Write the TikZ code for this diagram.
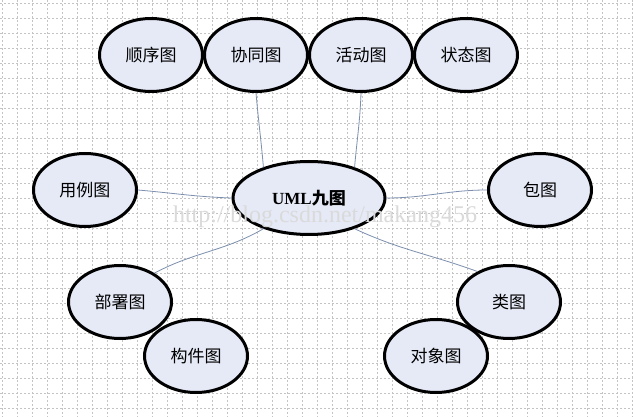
\documentclass[tikz,border=0pt]{standalone}
\usepackage{fontspec}
\setmainfont{Liberation Serif}
\newfontfamily\cjk{Noto Sans CJK SC}
\usetikzlibrary{shapes.geometric}
\definecolor{fillc}{HTML}{E6EAF7}
\definecolor{linkc}{HTML}{7D8FAE}
\definecolor{gridc}{HTML}{C4C4C4}
\definecolor{wmc}{HTML}{DADADA}
\begin{document}
\begin{tikzpicture}[x=1pt,y=-1pt,
  bub/.style={ellipse,draw=black,line width=3pt,fill=fillc,minimum width=103pt,minimum height=73pt,inner sep=0pt,font=\cjk\fontsize{17}{17}\selectfont},
  link/.style={draw=linkc,line width=0.8pt}]
\useasboundingbox (0,0) rectangle (633,417);
\fill[white] (0,0) rectangle (633,417);
\foreach \i in {0,...,42} {\draw[gridc,line width=0.6pt,dash pattern=on 2pt off 2pt] (2+15*\i,0) -- (2+15*\i,417);}
\foreach \j in {0,...,27} {\draw[gridc,line width=0.6pt,dash pattern=on 2pt off 2pt] (0,3+15*\j) -- (633,3+15*\j);}
\node[bub] (sx) at (151,55) {顺序图};
\node[bub] (xt) at (256,55) {协同图};
\node[bub] (hd) at (361,55) {活动图};
\node[bub] (zt) at (466,55) {状态图};
\node[bub,minimum width=152pt,minimum height=73pt] (uml) at (309,198) {{\rmfamily\bfseries UML}{\cjk\bfseries 九图}};
\node[bub] (yl) at (85,190) {用例图};
\node[bub] (bao) at (540,190) {包图};
\node[bub] (bs) at (120,302) {部署图};
\node[bub] (gj) at (196,356) {构件图};
\node[bub] (lei) at (509,302) {类图};
\node[bub] (dx) at (436,356) {对象图};
\draw[link] (xt.south) to[out=-85,in=95] (uml.146);
\draw[link] (hd.south) to[out=-92,in=85] (uml.34);
\draw[link] (yl.east) to[out=-5,in=178] (uml.west);
\draw[link] (bao.west) to[out=180,in=0] (uml.east);
\draw[link] (uml.214) to[out=-150,in=28] (bs.40);
\draw[link] (uml.326) to[out=-25,in=160] (lei.136);
\node[text=wmc,font=\fontsize{24}{24}\selectfont,inner sep=0pt] (wm) at (325,217) {http://blog.csdn.net/makang456};
\end{tikzpicture}
\end{document}
